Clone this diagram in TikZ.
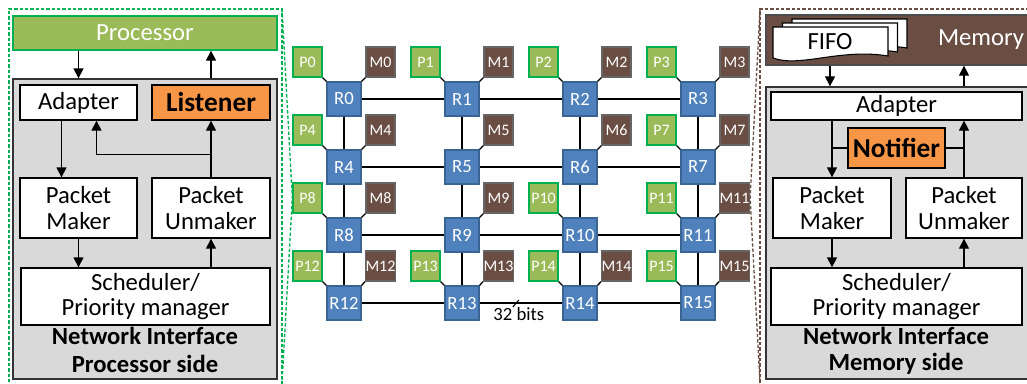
\documentclass[tikz,border=0pt]{standalone}
\usepackage{fontspec}
\setmainfont{Carlito}
\usetikzlibrary{arrows.meta,positioning,calc}
\definecolor{pgreen}{HTML}{9BBB59}
\definecolor{pline}{HTML}{00B050}
\definecolor{mbrown}{HTML}{6B4E43}
\definecolor{rblue}{HTML}{4F81BD}
\definecolor{rline}{HTML}{3A6593}
\definecolor{lorange}{HTML}{F79646}
\definecolor{nigray}{HTML}{D9D9D9}
\tikzset{blk/.style={draw=black,fill=white,line width=1pt,inner sep=0pt,align=center,font=\fontsize{18.5}{19}\selectfont},hot/.style={blk,fill=lorange,font=\fontsize{20.5}{21}\selectfont\bfseries},nibox/.style={draw=black!80,fill=nigray,line width=1pt,inner sep=0pt},rtr/.style={draw=rline,fill=rblue,text=white,line width=.8pt,minimum size=25.5pt,inner sep=0pt,font=\fontsize{14}{14}\selectfont},pe/.style={draw=pline,fill=pgreen,text=white,line width=1pt,minimum width=21.75pt,minimum height=22.5pt,inner sep=0pt,font=\fontsize{12}{12}\selectfont},memnode/.style={pe,draw=black!60,fill=mbrown},link/.style={line width=1pt},arr/.style={-{Triangle[length=7.5pt,width=7.5pt]},line width=1pt},callout/.style={dash pattern=on 2.5pt off 1.5pt,line width=1pt},ttl/.style={font=\fontsize{18.5}{19}\selectfont\bfseries}}

\begin{document}
\begin{tikzpicture}[x=0.75pt,y=-0.75pt]
\useasboundingbox (0,0) rectangle (1027,383);
% mesh
\foreach \r in {0,...,15}{
  \pgfmathtruncatemacro\cx{mod(\r,4)}
  \pgfmathtruncatemacro\cy{div(\r,4)}
  \node[rtr] (R\r) at (344+118*\cx,99+68*\cy) {R\r};
}
\foreach \r in {0,1,2,4,5,6,8,9,10,12,13,14}{
  \pgfmathtruncatemacro\n{\r+1}
  \draw[link] (R\r) -- (R\n);
}
\foreach \r in {0,...,11}{
  \pgfmathtruncatemacro\n{\r+4}
  \draw[link] (R\r) -- (R\n);
}
\foreach \r in {0,1,2,3,4,7,8,10,11,12,13,14,15}{
  \node[pe] (P\r) at ($(R\r)+(-36.5,-37)$) {P\r};
  \draw[link] (P\r.south east) -- (R\r.north west);
}
\foreach \r in {0,1,2,3,4,5,6,7,8,9,11,12,13,14,15}{
  \node[memnode] (M\r) at ($(R\r)+(36.5,-37)$) {M\r};
  \draw[link] (M\r.south west) -- (R\r.north east);
}
\coordinate (bw) at ($(R13.east)!.45!(R14.west)$);
\draw[line width=.8pt] ($(bw)+(-4,4)$) -- ($(bw)+(2,-3)$);
\node[font=\fontsize{14}{14}\selectfont] (bwl) at ($(bw)+(2,11)$) {32 bits};
% processor side
\node[draw=pline,fill=pgreen,text=white,line width=1pt,minimum width=198pt,minimum height=25.5pt,font=\fontsize{18.5}{19}\selectfont] (proc) at (145,33) {Processor};
\node[nibox,minimum width=198pt,minimum height=225pt] (niL) at (145,229) {};
\node[blk,minimum width=87.75pt,minimum height=26.25pt] (adL) at (78.5,102.5) {Adapter};
\node[hot,minimum width=88.5pt,minimum height=26.25pt] (lis) at (211,102.5) {Listener};
\node[blk,minimum width=87.75pt,minimum height=45pt] (pmL) at (78.5,208) {Packet\\Maker};
\node[blk,minimum width=88.5pt,minimum height=45pt] (puL) at (211,208) {Packet\\Unmaker};
\node[blk,minimum width=186.75pt,minimum height=42.75pt] (schL) at (145.5,296.5) {Scheduler/\\Priority manager};
\node[ttl] (tL1) at (145,336) {Network Interface};
\node[ttl] (tL2) at (145,364) {Processor side};
\draw[arr] (adL |- proc.south) -- (adL |- niL.north);
\draw[arr] (lis |- niL.north) -- (lis |- proc.south);
\draw[arr] ([xshift=-12.75pt]adL.south) -- ([xshift=-12.75pt]adL.south |- pmL.north);
\draw[arr] (puL.north) -- (lis.south);
\draw[arr] ($(puL.north)!.4!(lis.south)$) -| ([xshift=13.5pt]adL.south);
\draw[arr] (pmL.south) -- (pmL |- schL.north);
\draw[arr] (puL |- schL.north) -- (puL.south);
% memory side
\node[draw=black!70,fill=mbrown,line width=1pt,minimum width=198pt,minimum height=37.5pt,inner sep=0pt] (mem) at (898,40) {};
\node[text=white,font=\fontsize{18.5}{19}\selectfont] (memt) at (981,40) {Memory};
\foreach \o in {2,1,0}
  \draw[fill=white,line width=.8pt,shift={(9.5*\o,-4*\o)}] (773,27) -- (888,27) -- (888,56) .. controls (840,48) and (800,68) .. (773,58) -- cycle;
\node[font=\fontsize{18.5}{19}\selectfont] (fifo) at (830,42) {FIFO};
\node[nibox,minimum width=198pt,minimum height=219pt] (niR) at (898,233) {};
\node[blk,minimum width=188.25pt,minimum height=21pt] (adR) at (896.5,106) {Adapter};
\node[hot,minimum width=72.75pt,minimum height=30pt] (nty) at (896.5,148) {Notifier};
\node[blk,minimum width=88.5pt,minimum height=45pt] (pmR) at (832,208) {Packet\\Maker};
\node[blk,minimum width=87pt,minimum height=45pt] (puR) at (964,208) {Packet\\Unmaker};
\node[blk,minimum width=188.25pt,minimum height=42.75pt] (schR) at (896.5,296.5) {Scheduler/\\Priority manager};
\node[ttl] (tR1) at (896,336) {Network Interface};
\node[ttl] (tR2) at (896,364) {Memory side};
\draw[arr] (fifo |- mem.south) -- (fifo |- niR.north);
\draw[arr] (puR |- niR.north) -- (puR |- mem.south);
\draw[arr] (pmR |- adR.south) -- (pmR.north);
\draw[arr] (puR.north) -- (puR |- adR.south);
\draw[link] (nty.west) -- (nty.west -| pmR);
\draw[link] (nty.east) -- (nty.east -| puR);
\draw[arr] (pmR.south) -- (pmR |- schR.north);
\draw[arr] (puR |- schR.north) -- (puR.south);
% callouts
\draw[callout,draw=pline] (282,390) -- (282,9) -- (9,9) -- (9,390);
\draw[callout,draw=pline] (282,9) -- (P8.west) -- (282,383);
\draw[callout,draw=mbrown] (1035,9) -- (760,9) -- (760,390);
\draw[callout,draw=mbrown] (760,9) -- (M11.east) -- (760,383);
\end{tikzpicture}
\end{document}
